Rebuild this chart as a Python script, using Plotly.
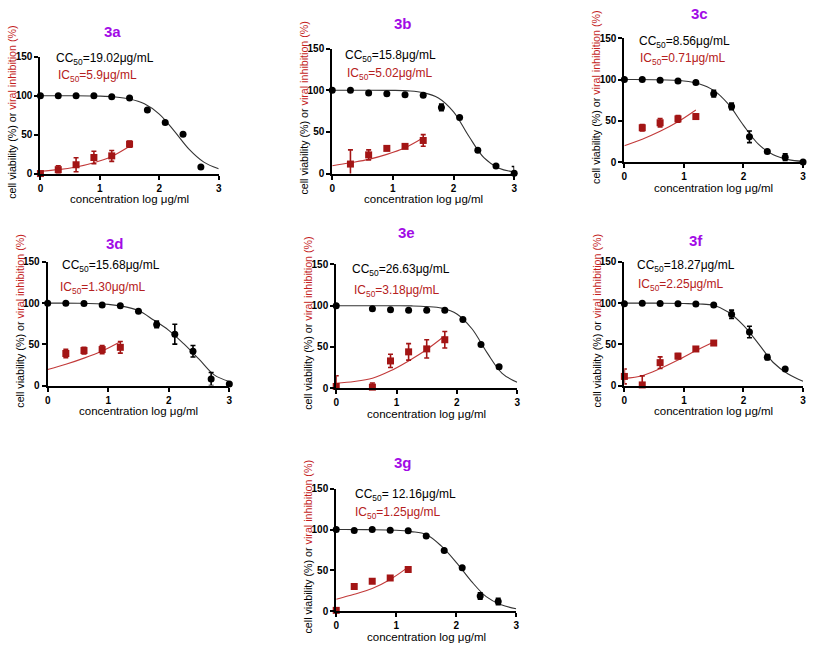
import plotly.graph_objects as go

W, H = 813, 652

# ---------------- data ----------------
dose = [0, 0.3, 0.6, 0.9, 1.2, 1.5, 1.8, 2.1, 2.4, 2.7, 3.0]
fit_x = [0, 0.5, 1.0, 1.25, 1.5, 1.75, 2.0, 2.25, 2.5, 2.75, 3.0]

# 3a
a_cv_x = [0, 0.3, 0.6, 0.9, 1.2, 1.5, 1.8, 2.1, 2.4, 2.7]
a_cv_y = [100, 100, 100, 100, 98.7, 97, 81.5, 65.5, 50.4, 8.4]
a_cv_err = [0, 0, 0, 0, 0, 0, 0, 0, 0, 0]
a_vi_x = [0, 0.3, 0.6, 0.9, 1.2, 1.5]
a_vi_y = [0, 5, 11.3, 20.6, 22.7, 37.8]
a_vi_err = [0, 5, 9, 8, 7, 4]
a_cv_fit = [100, 99.9, 99.4, 98.4, 95.8, 89.6, 76.4, 54.9, 31.4, 14.7, 6.1]
a_vi_fit_x = [0, 0.3, 0.6, 0.9, 1.2, 1.5]
a_vi_fit = [3, 5, 8.5, 14, 22, 35]

# 3b
b_cv_x = dose
b_cv_y = [100, 100, 96.6, 95.8, 94.6, 93.8, 79.3, 67.1, 27.9, 9, 0.4]
b_cv_err = [0, 0, 0, 0, 0, 0, 4, 0, 0, 0, 8]
b_vi_x = [0.3, 0.6, 0.9, 1.2, 1.5]
b_vi_y = [11.4, 22.4, 30.2, 32.6, 39.7]
b_vi_err = [17, 6, 2, 1.5, 7]
b_cv_fit = [100, 100, 99.8, 99.2, 97.1, 90.7, 74, 45, 19.1, 6.4, 1.9]
b_vi_fit_x = [0, 0.3, 0.6, 0.9, 1.2, 1.5]
b_vi_fit = [9.4, 13, 17, 23, 31, 43]

# 3c
c_cv_x = dose
c_cv_y = [100, 100, 99, 98.3, 96.3, 82.9, 67.5, 30.8, 13, 6.3, 0.4]
c_cv_err = [0, 0, 0, 0, 0, 4, 4, 7, 2, 4, 0]
c_vi_x = [0.3, 0.6, 0.9, 1.2]
c_vi_y = [41.8, 47.8, 52.5, 55.3]
c_vi_err = [4, 5, 4, 3]
c_cv_fit = [100, 99.8, 98.2, 95, 86.9, 69.9, 44.7, 22, 9.1, 3.3, 1.2]
c_vi_fit_x = [0, 0.3, 0.6, 0.9, 1.2]
c_vi_fit = [20.1, 28, 37.5, 49, 63.2]

# 3d
d_cv_x = dose
d_cv_y = [100, 100, 99.6, 97.6, 96.8, 90, 74.2, 62.3, 41.7, 7.9, 2]
d_cv_err = [0, 0, 0, 0, 0, 0, 4, 12, 7, 8, 2]
d_vi_x = [0.3, 0.6, 0.9, 1.2]
d_vi_y = [38.9, 42.5, 43.7, 46.4]
d_vi_err = [5, 4, 5, 7]
d_cv_fit = [100, 99.9, 98.5, 96, 91, 79.5, 67, 50.5, 32, 13, 5]
d_vi_fit_x = [0, 0.3, 0.6, 0.9, 1.2]
d_vi_fit = [19.4, 25.8, 33.3, 42, 53.2]

# 3e
e_cv_x = [0, 0.6, 0.9, 1.2, 1.5, 1.8, 2.1, 2.4, 2.7]
e_cv_y = [100, 96.4, 95.2, 94.4, 94.4, 94.4, 83.3, 52.8, 25.8]
e_cv_err = [0, 0, 0, 0, 0, 0, 0, 0, 2]
e_vi_x = [0, 0.6, 0.9, 1.2, 1.5, 1.8]
e_vi_y = [2, 1.2, 33, 44, 47.6, 58.7]
e_vi_err = [13, 5, 8, 10, 11, 10]
e_cv_fit = [100, 100, 99.9, 99.7, 99, 97, 90, 72, 43, 18, 7]
e_vi_fit_x = [0, 0.3, 0.6, 0.9, 1.2, 1.5, 1.8]
e_vi_fit = [6, 8, 12, 21, 33, 46.8, 63.5]

# 3f
f_cv_x = [0, 0.3, 0.6, 0.9, 1.2, 1.5, 1.8, 2.1, 2.4, 2.7]
f_cv_y = [99.2, 100, 99.6, 99.2, 98.8, 97.6, 86.5, 65, 34.5, 20.2]
f_cv_err = [0, 0, 0, 0, 0, 0, 5, 7, 3, 0]
f_vi_x = [0, 0.3, 0.6, 0.9, 1.2, 1.5]
f_vi_y = [11.1, 0.8, 27.8, 35.7, 44.4, 51.6]
f_vi_err = [9, 11, 7, 3, 2, 1]
f_cv_fit = [100, 100, 99.5, 99, 97.5, 89, 73, 51, 28, 14, 5.2]
f_vi_fit_x = [0, 0.3, 0.6, 0.9, 1.2, 1.5]
f_vi_fit = [8.7, 12, 20.6, 31, 42.5, 53]

# 3g
g_cv_x = [0, 0.3, 0.6, 0.9, 1.2, 1.5, 1.8, 2.1, 2.4, 2.7]
g_cv_y = [100, 98.8, 100, 99.2, 98.4, 92, 74.4, 53.2, 18.8, 12]
g_cv_err = [0, 0, 0, 0, 0, 0, 0, 0, 4, 4]
g_vi_x = [0, 0.3, 0.6, 0.9, 1.2]
g_vi_y = [1.2, 30.4, 36.8, 40.8, 51.2]
g_vi_err = [1, 0, 0, 0, 3]
g_cv_fit = [100, 99.9, 99.2, 97.5, 94, 80, 60, 37, 18, 8, 3.2]
g_vi_fit_x = [0, 0.3, 0.6, 0.9, 1.2]
g_vi_fit = [14.8, 20.8, 28, 39, 54]

panel_names = ["3a", "3b", "3c", "3d", "3e", "3f", "3g"]
cc50_labels = ["19.02", "15.8", "8.56", "15.68", "26.63", "18.27", " 12.16"]
ic50_labels = ["5.9", "5.02", "0.71", "1.30", "3.18", "2.25", "1.25"]
x_ticks = [0, 1, 2, 3]
y_ticks = [0, 50, 100, 150]

series = [
    (a_cv_x, a_cv_y, a_cv_err, a_vi_x, a_vi_y, a_vi_err, a_cv_fit, a_vi_fit_x, a_vi_fit),
    (b_cv_x, b_cv_y, b_cv_err, b_vi_x, b_vi_y, b_vi_err, b_cv_fit, b_vi_fit_x, b_vi_fit),
    (c_cv_x, c_cv_y, c_cv_err, c_vi_x, c_vi_y, c_vi_err, c_cv_fit, c_vi_fit_x, c_vi_fit),
    (d_cv_x, d_cv_y, d_cv_err, d_vi_x, d_vi_y, d_vi_err, d_cv_fit, d_vi_fit_x, d_vi_fit),
    (e_cv_x, e_cv_y, e_cv_err, e_vi_x, e_vi_y, e_vi_err, e_cv_fit, e_vi_fit_x, e_vi_fit),
    (f_cv_x, f_cv_y, f_cv_err, f_vi_x, f_vi_y, f_vi_err, f_cv_fit, f_vi_fit_x, f_vi_fit),
    (g_cv_x, g_cv_y, g_cv_err, g_vi_x, g_vi_y, g_vi_err, g_cv_fit, g_vi_fit_x, g_vi_fit),
]

# ---------------- layout (pixel boxes) ----------------
# (x0, x1, ytop(150), ybottom(0))
boxes = [
    (37.7, 217.3, 51.7, 170.7),
    (331.7, 515.0, 43.3, 170.7),
    (626.0, 806.0, 32.7, 159.3),
    (45.0, 228.0, 260.7, 386.7),
    (335.7, 518.0, 263.3, 389.3),
    (626.0, 806.0, 260.7, 386.7),
    (335.7, 517.0, 491.7, 616.7),
]
title_pos = [(110, 26), (403, 18), (702, 8), (113, 242), (407, 231), (698, 239), (403, 465)]
cc_pos = [(51, 54), (343, 51), (639, 37), (57, 265), (350, 269), (637, 265), (353, 498)]
ic_pos = [(53, 71), (345, 69), (640, 54), (55, 287), (352, 290), (638, 284), (353, 516)]

FONT = "Liberation Sans, Arial, sans-serif"
PURPLE = "#A20BE6"
DARKRED = "#A31515"
TXTRED = "#B52020"
LINERED = "#C23A3A"


def px(x):
    return x / W


def py(y):
    return 1 - y / H


fig = go.Figure()
annotations = []
layout_axes = {}

for i, (cvx, cvy, cve, vix, viy, vie, cvfit, vifx, vifit) in enumerate(series):
    n = i + 1
    xa = "x" if n == 1 else f"x{n}"
    ya = "y" if n == 1 else f"y{n}"
    xkey = "xaxis" if n == 1 else f"xaxis{n}"
    ykey = "yaxis" if n == 1 else f"yaxis{n}"
    x0, x1, yt, yb = boxes[i]

    # fitted curves
    fig.add_trace(go.Scatter(x=fit_x, y=cvfit, mode="lines", line=dict(color="#333333", width=1.1, shape="spline"),
                             xaxis=xa, yaxis=ya, showlegend=False, hoverinfo="skip", cliponaxis=False))
    fig.add_trace(go.Scatter(x=vifx, y=vifit, mode="lines", line=dict(color=LINERED, width=1.1, shape="spline"),
                             xaxis=xa, yaxis=ya, showlegend=False, hoverinfo="skip", cliponaxis=False))
    # data points
    fig.add_trace(go.Scatter(x=cvx, y=cvy, mode="markers",
                             marker=dict(symbol="circle", size=7, color="black"),
                             error_y=dict(type="data", array=cve, visible=True, color="black", thickness=1.6, width=2.5),
                             xaxis=xa, yaxis=ya, showlegend=False, cliponaxis=False))
    fig.add_trace(go.Scatter(x=vix, y=viy, mode="markers",
                             marker=dict(symbol="square", size=7, color=DARKRED),
                             error_y=dict(type="data", array=vie, visible=True, color=DARKRED, thickness=1.6, width=2.5),
                             xaxis=xa, yaxis=ya, showlegend=False, cliponaxis=False))

    common = dict(showline=True, linecolor="black", linewidth=2, ticks="outside", ticklen=4, tickwidth=2,
                  tickcolor="black", showgrid=False, zeroline=False,
                  tickfont=dict(family=FONT, size=10, color="black", weight="bold"))
    layout_axes[xkey] = dict(domain=[px(x0), px(x1)], range=[0, 3], tickvals=x_ticks, anchor=ya, **common)
    layout_axes[ykey] = dict(domain=[py(yb), py(yt)], range=[0, 150], tickvals=y_ticks, anchor=xa, **common)

    # panel title
    tx, ty = title_pos[i]
    annotations.append(dict(x=px(tx), y=py(ty), xref="paper", yref="paper", text=f"<b>{panel_names[i]}</b>",
                            showarrow=False, font=dict(family=FONT, size=15, color=PURPLE),
                            xanchor="center", yanchor="middle"))
    cx, cy = cc_pos[i]
    annotations.append(dict(x=px(cx), y=py(cy), xref="paper", yref="paper",
                            text=f"CC<sub>50</sub>={cc50_labels[i]}\u03bcg/mL",
                            showarrow=False, font=dict(family=FONT, size=12, color="black"),
                            xanchor="left", yanchor="middle"))
    ix, iy = ic_pos[i]
    annotations.append(dict(x=px(ix), y=py(iy), xref="paper", yref="paper",
                            text=f"IC<sub>50</sub>={ic50_labels[i]}\u03bcg/mL",
                            showarrow=False, font=dict(family=FONT, size=12, color=TXTRED),
                            xanchor="left", yanchor="middle"))
    # axis titles
    annotations.append(dict(x=px((x0 + x1) / 2), y=py(yb + 26), xref="paper", yref="paper",
                            text="concentration log \u03bcg/ml", showarrow=False,
                            font=dict(family=FONT, size=11.5, color="black"),
                            xanchor="center", yanchor="middle"))
    annotations.append(dict(x=px(x0 - 28), y=py((yt + yb) / 2 - 3), xref="paper", yref="paper",
                            text="cell viability (%) or <span style='color:#C41E1E'>viral inhibition (%)</span>",
                            showarrow=False, textangle=-90,
                            font=dict(family=FONT, size=10.7, color="black"),
                            xanchor="center", yanchor="middle"))

fig.update_layout(width=W, height=H, margin=dict(l=0, r=0, t=0, b=0),
                  paper_bgcolor="white", plot_bgcolor="white",
                  annotations=annotations, **layout_axes)

fig.write_html("out.html", config={"displayModeBar": False},
               post_script="document.body.style.margin='0px';document.body.style.overflow='hidden';")
